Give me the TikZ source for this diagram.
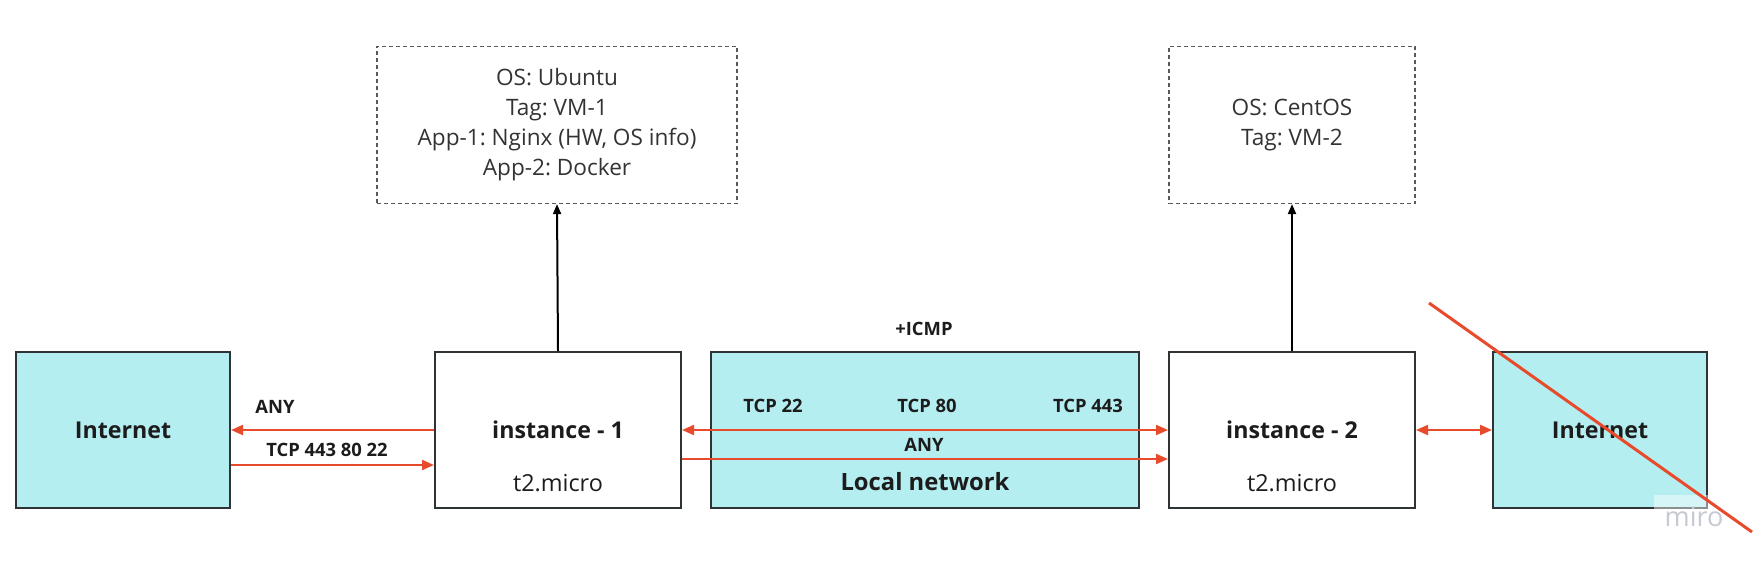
\documentclass[tikz,border=0pt]{standalone}
\usepackage{fontspec}
\setmainfont{Open Sans}
\frenchspacing
\usetikzlibrary{arrows.meta,calc}
\definecolor{netcyan}{HTML}{B5EEF1}
\definecolor{linkred}{HTML}{E84A2C}
\definecolor{boxline}{HTML}{2E3336}
\definecolor{txtdark}{HTML}{1C1C1C}
\definecolor{mirogray}{HTML}{C6C8D2}
\tikzset{
  hostbox/.style={draw=boxline, line width=1pt, fill=white, minimum width=123pt, minimum height=78pt, inner sep=0pt,
    text=txtdark, font=\fontsize{11.6}{13.6}\selectfont\bfseries},
  netbox/.style={hostbox, fill=netcyan},
  infobox/.style={draw=black!65, line width=0.6pt, dash pattern=on 2pt off 1.5pt, minimum height=78.5pt, inner sep=0pt,
    align=center, text=black!80, font=\fontsize{11.3}{15}\selectfont},
  small/.style={text=txtdark, font=\fontsize{11.7}{13.6}\selectfont},
  port/.style={text=txtdark, font=\fontsize{9.2}{11}\selectfont\bfseries},
  link/.style={draw=linkred, line width=1pt, -{Triangle[length=6pt,width=5pt]}},
  twoway/.style={link, {Triangle[length=6pt,width=5pt]}-{Triangle[length=6pt,width=5pt]}},
  up/.style={draw=black, line width=1pt, -{Triangle[length=5pt,width=4pt]}}
}
\begin{document}
\begin{tikzpicture}[x=0.5pt, y=-0.5pt]
\useasboundingbox (0,0) rectangle (1761,567);
\begin{scope}
\path (123,430)  node[netbox, minimum width=107pt] (inetL) {Internet};
\path (558,430)  node[hostbox] (inst1) {instance - 1};
\path (925,430)  node[netbox, minimum width=214pt] (lnet) {};
\path (1292,430) node[hostbox] (inst2) {instance - 2};
\path (1600,430) node[netbox, minimum width=107pt] (inetR) {Internet};
\path (557,125)  node[infobox, minimum width=180pt] (info1) {OS: Ubuntu\\Tag: VM-1\\App-1: Nginx (HW, OS info)\\App-2: Docker};
\path (1292,125) node[infobox, minimum width=123pt] (info2) {OS: CentOS\\Tag: VM-2};
\path ($(inst1)+(0,53)$) node[small] (type1) {t2.micro};
\path ($(inst2)+(0,53)$) node[small] (type2) {t2.micro};
\path ($(lnet)+(0,52)$)  node[hostbox, draw=none, fill=none, minimum width=0pt, minimum height=0pt,
  font=\fontsize{11.9}{14}\selectfont\bfseries] (lnetname) {Local network};
\end{scope}
\draw[up] (inst1.north) -- (info1.south);
\draw[up] (inst2.north) -- (info2.south);
\draw[link] (inst1.west) -- (inetL.east);
\draw[link] ($(inetL.east)+(0,35)$) -- ($(inst1.west)+(0,35)$);
\draw[twoway] (inst1.east) -- (inst2.west);
\draw[link] ($(inst1.east)+(0,29)$) -- ($(inst2.west)+(0,29)$);
\draw[twoway] (inst2.east) -- (inetR.west);
\path (275,407)  node[port] (anyout) {ANY};
\path (327,450)  node[port] (tcpin) {TCP 443 80 22};
\path (924,329)  node[port] (icmp) {+ICMP};
\path (773,406)  node[port] (tcp22) {TCP 22};
\path (927,406)  node[port] (tcp80) {TCP 80};
\path (1088,406) node[port] (tcp443) {TCP 443};
\path (924,445)  node[port] (anylocal) {ANY};
\path (1694,517) node[fill=white, fill opacity=0.45, text opacity=1, text=mirogray, minimum width=40pt, minimum height=22pt,
  font=\fontsize{13.5}{15}\selectfont] (miro) {miro};
\draw[linkred, line width=1.5pt] (1429,303) coordinate (cutA) -- (1752,532) coordinate (cutB);
\end{tikzpicture}
\end{document}
